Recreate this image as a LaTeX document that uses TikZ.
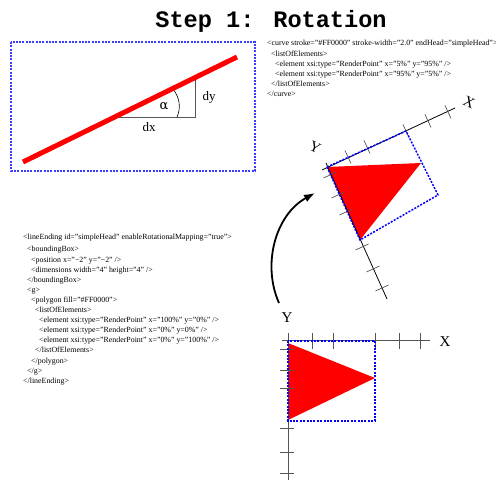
\documentclass[tikz,border=0pt]{standalone}
\usepackage{fontspec}
\setmainfont{Liberation Serif}
\newfontfamily\titlefont{Liberation Mono}
\usetikzlibrary{arrows.meta}
\definecolor{lightblue}{HTML}{3C3CFF}
\definecolor{axisgrey}{HTML}{555555}
\tikzset{
  codeline/.style={anchor=base west,inner sep=0pt,font=\fontsize{7.9}{9}\selectfont},
  biglabel/.style={inner sep=0pt,font=\fontsize{15}{15}\selectfont},
  midlabel/.style={inner sep=0pt,font=\fontsize{13}{13}\selectfont},
  axisline/.style={draw=black,line width=0.8pt},
  tickline/.style={draw=axisgrey,line width=0.7pt},
  boxline/.style={draw=blue,line width=1.5pt,dash pattern=on 2pt off 1.4pt},
  triangle/.style={fill=red,draw=none},
}
\begin{document}
\begin{tikzpicture}[x=1pt,y=-1pt]
\useasboundingbox (0,0) rectangle (496,481);
\node[inner sep=0pt,font=\fontsize{23.6}{24}\selectfont\titlefont\bfseries] (title) at (271,21) {Step 1: Rotation};
% top box
\draw[draw=lightblue,line width=1.3pt,dash pattern=on 2pt off 1.3pt] (11,42) rectangle (255,171);
\draw[draw=axisgrey,line width=0.7pt] (113,117) -- (195,117) -- (195,77);
\draw[draw=black,line width=0.6pt] (177,117) .. controls (181,108) and (180,98) .. (173,89);
\draw[draw=red,line width=5pt] (23,162) -- (237,57);
\node[midlabel] (alpha) at (164,106) {\fontspec{DejaVu Serif}α};
\node[midlabel] (dx) at (149,127) {dx};
\node[midlabel] (dy) at (209,97) {dy};
% curve code
\foreach \t/\x/\y in {
 {<curve stroke="\#FF0000" stroke-width="2.0" endHead="simpleHead">}/267/46,
 {<listOfElements>}/271/57,
 {<element xsi:type="RenderPoint" x="5\%" y="95\%" />}/275/67,
 {<element xsi:type="RenderPoint" x="95\%" y="5\%" />}/275/77,
 {</listOfElements>}/271/87,
 {</curve>}/267/97}
  \node[codeline] at (\x,\y) {\t};
% line ending code
\foreach \t/\x/\y in {
 {<lineEnding id="simpleHead" enableRotationalMapping="true">}/23/240,
 {<boundingBox>}/27/252,
 {<position x="−2" y="−2" />}/31/263,
 {<dimensions width="4" height="4" />}/31/273,
 {</boundingBox>}/27/283,
 {<g>}/27/293,
 {<polygon fill="\#FF0000">}/31/303,
 {<listOfElements>}/35/313,
 {<element xsi:type="RenderPoint" x="100\%" y="0\%" />}/39/323,
 {<element xsi:type="RenderPoint" x="0\%" y=0\%" />}/39/333,
 {<element xsi:type="RenderPoint" x="0\%" y="100\%" />}/39/343,
 {</listOfElements>}/35/353,
 {</polygon>}/31/364,
 {</g>}/27/374,
 {</lineEnding>}/23/384}
  \node[codeline] at (\x,\y) {\t};
% rotated axes
\draw[triangle] (327,167) -- (421,163) -- (360,240) -- cycle;
\draw[axisline] (322,170) -- (455,108);
\draw[axisline] (326,163) -- (387,299);
\foreach \x/\y in {348/157, 367/147, 406/131, 428/121, 448/112}
  \draw[tickline] (\x-3,\y-6.5) -- (\x+3,\y+6.5);
\foreach \x/\y in {330/175, 338/195, 346/212, 362/247, 373/269, 382/288}
  \draw[tickline] (\x-6.5,\y+3) -- (\x+6.5,\y-3);
\draw[boxline] (327,167) -- (406,131) -- (438,195) -- (360,240) -- cycle;
\node[biglabel,rotate=-25] (xr) at (469,102) {X};
\node[biglabel,rotate=-25] (yr) at (315,147) {Y};
% rotation arrow
\draw[line width=1.8pt,-{Latex[length=11pt,width=8pt]}] (279,303) .. controls (262,265) and (275,215) .. (315,193);
% bottom axes
\draw[triangle] (288,343) -- (375,378) -- (288,420) -- cycle;
\draw[draw=axisgrey,line width=0.8pt] (282,340) -- (430,340);
\draw[draw=axisgrey,line width=0.8pt] (288,333) -- (288,480);
\foreach \x in {312,333,375,399,420}
  \draw[tickline] (\x,333) -- (\x,349);
\foreach \y in {349,370,388,428,452,473}
  \draw[tickline] (280,\y) -- (294,\y);
\draw[boxline] (288,341) rectangle (375,421);
\node[biglabel] (yb) at (287,318) {Y};
\node[biglabel] (xb) at (445,342) {X};
\end{tikzpicture}
\end{document}
